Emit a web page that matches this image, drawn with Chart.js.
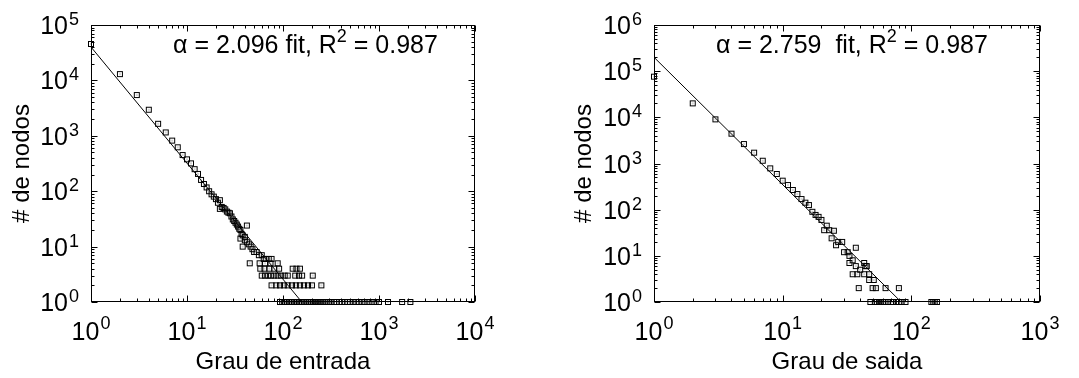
<!DOCTYPE html>
<html lang="pt">
<head>
<meta charset="UTF-8">
<title>Distribuição de grau</title>
<script src="https://cdn.jsdelivr.net/npm/chart.js"></script>
<style>
    body { margin: 0; background: #fff; }
    .painel { position: absolute; top: 0; height: 378px; }
</style>
</head>
<body>

<div class="painel" style="left:0;width:540px"><canvas id="grauEntrada" width="540" height="378"></canvas></div>
<div class="painel" style="left:540px;width:539px"><canvas id="grauSaida" width="539" height="378"></canvas></div>

<script>
// grau de entrada (x) e numero de nodos (y)
const entradaGrau = [
    1, 2, 3, 4, 5, 6, 7, 8, 9, 10, 11, 12, 13, 14, 15, 16, 17, 18, 19, 20,
    21, 22, 22, 23, 24, 25, 26, 27, 28, 29, 30, 31, 32, 33, 34, 35, 36, 37, 38, 40,
    42, 36, 38, 40, 42, 44, 46, 48, 50, 53, 56, 60, 63, 66, 71, 76,
    45, 57, 65, 74, 88,
    58, 64, 72, 81, 91, 126, 138, 150,
    60, 65, 70, 75, 81, 88, 95, 104, 112, 134, 147, 158, 204,
    76, 85, 93, 102, 112, 124, 136, 150, 165, 182, 200, 251,
    93, 98, 102, 106, 110, 115, 120, 125, 130, 135, 140, 146, 152, 158, 165, 172,
    180, 188, 196, 205, 215, 225, 236, 248, 260, 275, 290, 305, 320, 340, 360, 385,
    410, 440, 470, 500, 540, 580, 620, 670, 720, 780, 850, 920, 1000, 1240, 1740, 2120
];
const entradaNodos = [
    45400, 13000, 5450, 2960, 1650, 1150, 820, 620, 450, 376, 318, 250, 205, 160, 135, 117, 100, 88, 80, 72,
    62, 69, 48, 52, 50, 47, 43, 41, 40, 35, 31, 29, 27, 25, 23, 21, 20, 17, 16, 15,
    24, 14, 10, 13, 12, 11, 10, 9, 8, 8, 7, 7, 6, 6, 6, 6,
    5, 5, 5, 5, 5,
    4, 4, 4, 4, 4, 4, 4, 4,
    3, 3, 3, 3, 3, 3, 3, 3, 3, 3, 3, 3, 3,
    2, 2, 2, 2, 2, 2, 2, 2, 2, 2, 2, 2,
    1, 1, 1, 1, 1, 1, 1, 1, 1, 1, 1, 1, 1, 1, 1, 1,
    1, 1, 1, 1, 1, 1, 1, 1, 1, 1, 1, 1, 1, 1, 1, 1,
    1, 1, 1, 1, 1, 1, 1, 1, 1, 1, 1, 1, 1, 1, 1, 1
];
const entradaAjuste = { alpha: 2.096, c: 40000 };
const entradaTexto = ['\u03b1 = 2.096 fit, R', '2', ' = 0.987'];

// grau de saida
const saidaGrau = [
    1, 2, 3, 4, 5, 6, 7, 8, 9, 10, 11, 12, 13, 14, 15, 16, 17, 18, 19, 20,
    21, 22, 23, 24, 25, 26, 27, 29, 30, 32, 33, 37, 33, 35, 37, 40, 43, 44, 45,
    35, 38, 43, 47, 47, 51, 39, 50, 53, 63, 80,
    48, 52, 54, 56, 58, 60, 62, 66, 70, 72, 76, 80, 84, 90, 143, 148, 152, 158
];
const saidaNodos = [
    76000, 20100, 9050, 4430, 2640, 1720, 1150, 785, 593, 425, 342, 267, 218, 170, 142, 126, 90, 77, 70, 60,
    36, 45, 36, 24, 35, 17, 20, 20, 12, 12, 10, 15, 7, 8, 6, 5, 7, 6, 6,
    4, 4, 4, 4, 3, 3, 2, 2, 2, 2, 2,
    1, 1, 1, 1, 1, 1, 1, 1, 1, 1, 1, 1, 1, 1, 1, 1, 1, 1
];
const saidaAjuste = { alpha: 2.759, c: 200000 };
const saidaTexto = ['\u03b1 = 2.759  fit, R', '2', ' = 0.987'];

const fonte = '"Liberation Sans", Arial, sans-serif';

// marcador do gnuplot: quadrado com ponto no meio
function criaMarcador() {
    const c = document.createElement('canvas');
    c.width = 8; c.height = 8;
    const g = c.getContext('2d');
    g.strokeStyle = '#000';
    g.lineWidth = 1;
    g.strokeRect(1.5, 1.5, 5, 5);
    g.fillStyle = '#555';
    g.fillRect(3.5, 3.5, 1, 1);
    return c;
}
const marcador = criaMarcador();

// moldura, marcas internas, rotulos 10^n e texto do ajuste
function moldura(texto, textoDx) {
    return {
        id: 'moldura',
        afterDraw(chart) {
            const ctx = chart.ctx;
            const a = chart.chartArea;
            const sx = chart.scales.x, sy = chart.scales.y;
            ctx.save();
            ctx.strokeStyle = '#000';
            ctx.lineWidth = 1;
            const L = Math.round(a.left) + 0.5, R = Math.round(a.right) - 0.5;
            const T = Math.round(a.top) + 0.5, B = Math.round(a.bottom) - 0.5;
            ctx.strokeRect(L, T, R - L, B - T);

            ctx.beginPath();
            const dx = [Math.log10(sx.min), Math.log10(sx.max)];
            for (let d = dx[0]; d <= dx[1]; d++) {
                for (let k = 1; k <= 9; k++) {
                    if (k > 1 && d === dx[1]) break;
                    const px = Math.round(sx.getPixelForValue(k * Math.pow(10, d))) + 0.5;
                    const len = k === 1 ? 6 : 3;
                    ctx.moveTo(px, B); ctx.lineTo(px, B - len);
                    ctx.moveTo(px, T); ctx.lineTo(px, T + len);
                }
            }
            const dy = [Math.log10(sy.min), Math.log10(sy.max)];
            for (let d = dy[0]; d <= dy[1]; d++) {
                for (let k = 1; k <= 9; k++) {
                    if (k > 1 && d === dy[1]) break;
                    const py = Math.round(sy.getPixelForValue(k * Math.pow(10, d))) + 0.5;
                    const len = k === 1 ? 6 : 3;
                    ctx.moveTo(L, py); ctx.lineTo(L + len, py);
                    ctx.moveTo(R, py); ctx.lineTo(R - len, py);
                }
            }
            ctx.stroke();

            ctx.fillStyle = '#000';
            const base = '25px ' + fonte, sup = '18px ' + fonte;
            ctx.textAlign = 'left';
            ctx.textBaseline = 'alphabetic';
            // eixo x
            for (let d = dx[0]; d <= dx[1]; d++) {
                const px = sx.getPixelForValue(Math.pow(10, d));
                ctx.font = base; const bw = ctx.measureText('10').width;
                ctx.font = sup; const ew = ctx.measureText(String(d)).width;
                const x0 = px - (bw + ew + 1) / 2;
                ctx.font = base; ctx.fillText('10', x0, a.bottom + 38);
                ctx.font = sup; ctx.fillText(String(d), x0 + bw + 1, a.bottom + 27);
            }
            // eixo y
            for (let d = dy[0]; d <= dy[1]; d++) {
                const py = sy.getPixelForValue(Math.pow(10, d));
                ctx.font = base; const bw = ctx.measureText('10').width;
                ctx.font = sup; const ew = ctx.measureText(String(d)).width;
                const x0 = a.left - 12 - ew - 1 - bw;
                ctx.font = base; ctx.fillText('10', x0, py + 9);
                ctx.font = sup; ctx.fillText(String(d), x0 + bw + 1, py);
            }
            // texto do ajuste
            let tx = a.left + textoDx;
            const ty = a.top + 28;
            ctx.font = base; ctx.fillText(texto[0], tx, ty); tx += ctx.measureText(texto[0]).width;
            ctx.font = sup; ctx.fillText(texto[1], tx, ty - 11); tx += ctx.measureText(texto[1]).width;
            ctx.font = base; ctx.fillText(texto[2], tx, ty);
            ctx.restore();
        }
    };
}

function montaGrafico(id, grau, nodos, ajuste, opts) {
    const pontos = grau.map((g, i) => ({ x: g, y: nodos[i] }));
    const fimAjuste = Math.pow(ajuste.c, 1 / ajuste.alpha);
    return new Chart(document.getElementById(id), {
        type: 'scatter',
        data: {
            datasets: [{
                data: pontos,
                pointStyle: marcador,
                pointRadius: 4,
                clip: false
            }, {
                data: [{ x: 1, y: ajuste.c }, { x: fimAjuste, y: 1 }],
                showLine: true,
                borderColor: '#000',
                borderWidth: 1,
                pointRadius: 0,
                clip: false
            }]
        },
        options: {
            responsive: false,
            animation: false,
            layout: { padding: { left: opts.padEsq, top: 25, right: opts.padDir, bottom: 0 } },
            plugins: { legend: { display: false }, tooltip: { enabled: false } },
            scales: {
                x: {
                    type: 'logarithmic', min: 1, max: opts.xMax,
                    ticks: { display: false }, grid: { display: false }, border: { display: false },
                    title: { display: true, text: opts.tituloX, color: '#000',
                             font: { family: fonte, size: 24 }, padding: { top: 0, bottom: 1 } },
                    afterFit(s) { s.height = 76; }
                },
                y: {
                    type: 'logarithmic', min: 1, max: opts.yMax,
                    ticks: { display: false }, grid: { display: false }, border: { display: false },
                    title: { display: true, text: '# de nodos', color: '#000',
                             font: { family: fonte, size: 24 }, padding: { top: 8, bottom: 0 } },
                    afterFit(s) { s.width = opts.eixoY; }
                }
            }
        },
        plugins: [moldura(opts.texto, opts.textoDx)]
    });
}

montaGrafico('grauEntrada', entradaGrau, entradaNodos, entradaAjuste, {
    padEsq: 0, padDir: 65, eixoY: 91, xMax: 1e4, yMax: 1e5,
    tituloX: 'Grau de entrada', texto: entradaTexto, textoDx: 82
});
montaGrafico('grauSaida', saidaGrau, saidaNodos, saidaAjuste, {
    padEsq: 22, padDir: 39, eixoY: 92, xMax: 1e3, yMax: 1e6,
    tituloX: 'Grau de saida', texto: saidaTexto, textoDx: 62
});
</script>
</body>
</html>
